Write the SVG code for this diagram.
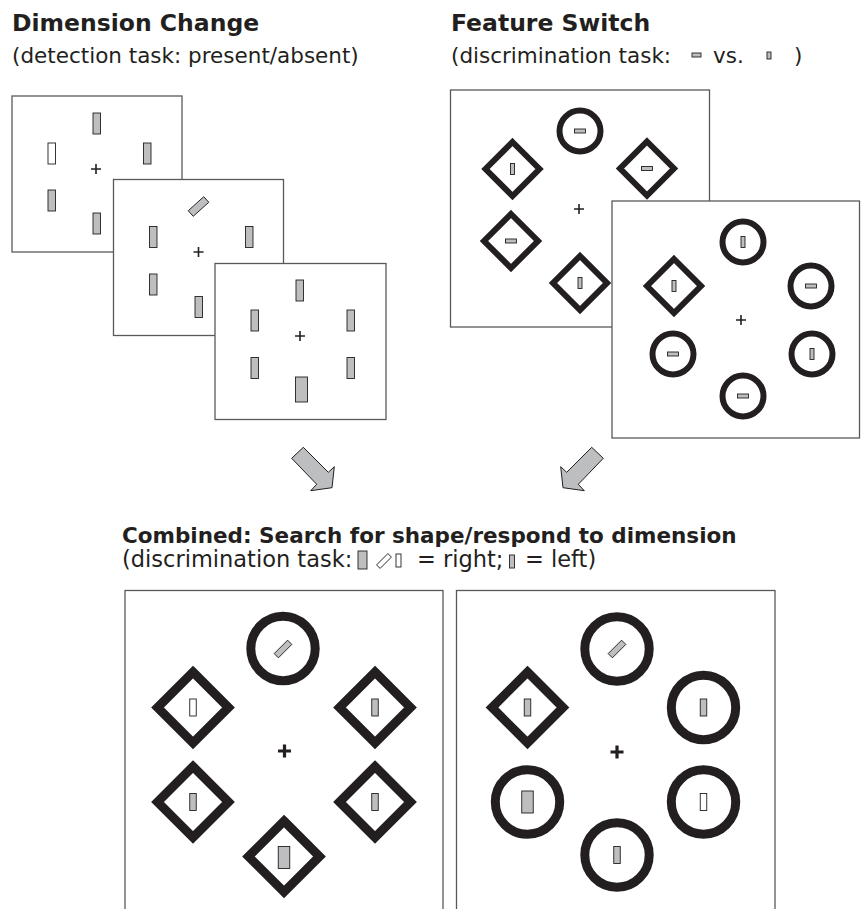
<svg xmlns="http://www.w3.org/2000/svg" xmlns:xlink="http://www.w3.org/1999/xlink" width="861" height="909" viewBox="0 0 861 909">
<style>
text{fill:#231f20;font-family:"DejaVu Sans","Liberation Sans",sans-serif}
.t{font-weight:bold;font-size:23.5px}
.s{font-size:21.5px}
.ct{font-weight:bold;font-size:21.5px}
.cs{font-size:22.5px}
.panel{fill:#fff;stroke:#58595b;stroke-width:1.3}
.bar{fill:#bcbec0;stroke:#231f20;stroke-width:0.9}
.wbar{fill:#fff;stroke:#231f20;stroke-width:0.9}
.r6{fill:none;stroke:#231f20;stroke-width:6}
.r9{fill:none;stroke:#231f20;stroke-width:9}
.fx{stroke:#231f20;stroke-width:1.6;fill:none}
.fxb{stroke:#231f20;stroke-width:3.2;fill:none}
.arrow{fill:#bcbec0;stroke:#231f20;stroke-width:1;stroke-linejoin:miter}
</style>
<defs>
<path id="d6" d="M0,-27 L27,0 L0,27 L-27,0 Z" class="r6"/>
<circle id="c6" r="20.5" class="r6"/>
<path id="d9" d="M0,-35.5 L35.5,0 L0,35.5 L-35.5,0 Z" class="r9"/>
<circle id="c9" r="32.2" class="r9"/>
<rect id="hb" x="-5.5" y="-2" width="11" height="4" class="bar"/>
<rect id="vb" x="-2" y="-5.5" width="4" height="11" class="bar"/>
<rect id="bb" x="-3.25" y="-8.5" width="6.5" height="17" class="bar"/>
<rect id="bw" x="-3.25" y="-8.5" width="6.5" height="17" class="wbar"/>
<rect id="bbig" x="-5.75" y="-11" width="11.5" height="22" class="bar"/>
<rect id="btilt" x="-3" y="-9.5" width="6" height="19" class="bar" transform="rotate(45)"/>
<path id="fs" d="M-5,0 H5 M0,-5 V5" class="fx"/>
<path id="fb" d="M-6.5,0 H6.5 M0,-6.5 V6.5" class="fxb"/>
</defs>

<g id="titles">
<text class="t" x="12" y="31">Dimension Change</text>
<text class="s" x="12" y="63">(detection task: present/absent)</text>
<text class="t" x="451" y="31">Feature Switch</text>
<text class="s" x="451" y="63">(discrimination task:</text>
<rect x="692" y="53" width="9" height="4" class="bar"/>
<text class="s" x="713" y="63">vs.</text>
<rect x="767" y="52" width="4" height="7" class="bar"/>
<text class="s" x="794" y="63">)</text>
</g>

<g id="dc1">
<rect class="panel" x="12" y="96" width="170" height="156"/>
<rect class="bar" x="93" y="113" width="7.5" height="21"/>
<rect class="wbar" x="48" y="143" width="7.5" height="21"/>
<rect class="bar" x="143.5" y="143" width="7.5" height="21"/>
<rect class="bar" x="48" y="190" width="7.5" height="21"/>
<rect class="bar" x="93" y="213" width="7.5" height="21"/>
<use href="#fs" x="96" y="169"/>
</g>

<g id="dc2">
<rect class="panel" x="113.5" y="179.5" width="170" height="156"/>
<rect class="bar" x="-3.75" y="-10.5" width="7.5" height="21" transform="translate(198.5,206.5) rotate(48)"/>
<rect class="bar" x="149.5" y="226.5" width="7.5" height="21"/>
<rect class="bar" x="245.5" y="226.5" width="7.5" height="21"/>
<rect class="bar" x="149.5" y="274" width="7.5" height="21"/>
<rect class="bar" x="195" y="296.5" width="7.5" height="21"/>
<use href="#fs" x="198.5" y="252"/>
</g>

<g id="dc3">
<rect class="panel" x="215" y="263.5" width="171" height="156"/>
<rect class="bar" x="296" y="280" width="7.5" height="21"/>
<rect class="bar" x="251" y="310" width="7.5" height="21"/>
<rect class="bar" x="347" y="310" width="7.5" height="21"/>
<rect class="bar" x="251" y="357.5" width="7.5" height="21"/>
<rect class="bar" x="347" y="357.5" width="7.5" height="21"/>
<rect class="bar" x="295.5" y="377" width="12" height="25"/>
<use href="#fs" x="300" y="336"/>
</g>

<g id="fs1">
<rect class="panel" x="450.5" y="90" width="259" height="237"/>
<use href="#c6" x="580" y="131"/><use href="#hb" x="580" y="131"/>
<use href="#d6" x="512.5" y="169"/><use href="#vb" x="512.5" y="169"/>
<use href="#d6" x="647" y="168.5"/><use href="#hb" x="647" y="168.5"/>
<use href="#d6" x="511" y="241"/><use href="#hb" x="511" y="241"/>
<use href="#d6" x="580" y="283"/><use href="#vb" x="580" y="283"/>
<use href="#fs" x="579" y="209"/>
</g>

<g id="fs2">
<rect class="panel" x="612" y="201" width="247.5" height="237"/>
<use href="#c6" x="743" y="242"/><use href="#vb" x="743" y="242"/>
<use href="#d6" x="674" y="286"/><use href="#vb" x="674" y="286"/>
<use href="#c6" x="811" y="286"/><use href="#hb" x="811" y="286"/>
<use href="#c6" x="673" y="354"/><use href="#hb" x="673" y="354"/>
<use href="#c6" x="812" y="354"/><use href="#vb" x="812" y="354"/>
<use href="#c6" x="743" y="396"/><use href="#hb" x="743" y="396"/>
<use href="#fs" x="741" y="320"/>
</g>

<g id="connectors">
<polygon class="arrow" points="291.7,458.3 303.3,447.3 328.3,472.3 334.3,466.7 332,487.7 310.7,490.7 316.7,484.3"/>
<polygon class="arrow" points="603.3,458.3 591.7,447.3 566.7,472.3 560.7,466.7 563,487.7 584.3,490.7 578.3,484.3"/>
</g>

<g id="combined-title">
<text class="ct" x="122" y="543">Combined: Search for shape/respond to dimension</text>
<text class="cs" x="122" y="567">(discrimination task:</text>
<rect x="358" y="551" width="9" height="18" class="bar"/>
<rect x="-2.5" y="-8" width="5" height="16" class="wbar" transform="translate(384,561) rotate(45)"/>
<rect x="396" y="554" width="5" height="13" class="wbar"/>
<text class="cs" x="417" y="567">= right;</text>
<rect x="509.5" y="555" width="5" height="13" class="bar"/>
<text class="cs" x="525" y="567">= left)</text>
</g>

<g id="combined-left">
<rect class="panel" x="125" y="590.5" width="318" height="330"/>
<use href="#c9" x="283" y="648.5"/><use href="#btilt" x="283" y="649"/>
<use href="#d9" x="193" y="707.5"/><use href="#bw" x="193" y="707.5"/>
<use href="#d9" x="375" y="707.5"/><use href="#bb" x="375" y="707.5"/>
<use href="#d9" x="193" y="802"/><use href="#bb" x="193" y="802"/>
<use href="#d9" x="375" y="802"/><use href="#bb" x="375" y="802"/>
<use href="#d9" x="284" y="856.5"/><use href="#bbig" x="284" y="857.5"/>
<use href="#fb" x="284.5" y="751"/>
</g>

<g id="combined-right">
<rect class="panel" x="456.5" y="590.5" width="318.5" height="330"/>
<use href="#c9" x="617" y="649"/><use href="#btilt" x="617" y="649"/>
<use href="#d9" x="527.5" y="707.5"/><use href="#bb" x="527.5" y="707.5"/>
<use href="#c9" x="703.5" y="707.5"/><use href="#bb" x="703.5" y="707.5"/>
<use href="#c9" x="527.5" y="802"/><use href="#bbig" x="527.5" y="802"/>
<use href="#c9" x="703.5" y="802"/><use href="#bw" x="703.5" y="802"/>
<use href="#c9" x="617" y="855"/><use href="#bb" x="617" y="855"/>
<use href="#fb" x="617" y="752"/>
</g>
</svg>
